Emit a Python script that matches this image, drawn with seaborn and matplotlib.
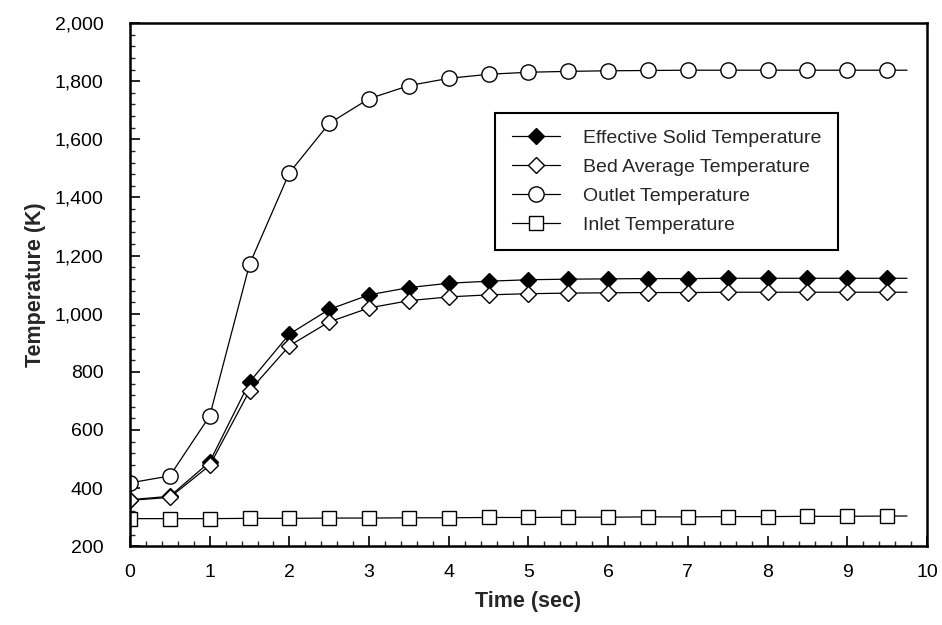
import numpy as np
import pandas as pd
import matplotlib
matplotlib.use("Agg")
import matplotlib.pyplot as plt
import seaborn as sns
from matplotlib.ticker import MultipleLocator, StrMethodFormatter

# Data (markers every 0.5 s, last point is line end)
time_s = [0, 0.5, 1, 1.5, 2, 2.5, 3, 3.5, 4, 4.5, 5, 5.5, 6, 6.5, 7, 7.5, 8, 8.5, 9, 9.5, 9.75]
effective_solid = [360, 372, 490, 765, 930, 1015, 1065, 1090, 1105, 1112, 1117, 1119, 1120, 1121, 1121, 1122, 1122, 1122, 1122, 1122, 1122]
bed_average = [358, 368, 478, 735, 890, 972, 1020, 1045, 1058, 1065, 1069, 1071, 1072, 1073, 1073, 1074, 1074, 1074, 1074, 1074, 1074]
outlet = [418, 442, 648, 1170, 1485, 1655, 1740, 1785, 1810, 1824, 1831, 1834, 1836, 1837, 1838, 1838, 1838, 1838, 1838, 1838, 1838]
inlet = [295, 295, 295, 296, 296, 297, 297, 298, 298, 299, 299, 300, 300, 301, 301, 302, 302, 303, 303, 304, 304]

series = {
    "Effective Solid Temperature": (effective_solid, "D", "black", 8.5),
    "Bed Average Temperature": (bed_average, "D", "white", 8.5),
    "Outlet Temperature": (outlet, "o", "white", 11),
    "Inlet Temperature": (inlet, "s", "white", 10.5),
}

sns.set_style("ticks")
plt.rcParams["font.family"] = ["Liberation Sans", "DejaVu Sans"]

fig = plt.figure(figsize=(9.42, 6.25), dpi=100)
ax = fig.add_axes([0.138, 0.126, 0.846, 0.837])

marked = list(range(len(time_s) - 1))
for name, (vals, mk, face, ms) in series.items():
    df = pd.DataFrame({"Time": time_s, "Temp": vals})
    sns.lineplot(data=df, x="Time", y="Temp", ax=ax, color="black", lw=0.9,
                 marker=mk, markerfacecolor=face, markeredgecolor="black",
                 markeredgewidth=1.0, markersize=ms, markevery=marked, label=name)

ax.set_xlim(0, 10)
ax.set_ylim(200, 2000)
ax.xaxis.set_major_locator(MultipleLocator(1))
ax.xaxis.set_minor_locator(MultipleLocator(0.2))
ax.yaxis.set_major_locator(MultipleLocator(200))
ax.yaxis.set_minor_locator(MultipleLocator(40))
ax.yaxis.set_major_formatter(StrMethodFormatter("{x:,.0f}"))

ax.tick_params(axis="both", which="major", direction="in", length=7, width=1.2,
               labelsize=14, colors="black")
ax.tick_params(axis="both", which="minor", direction="in", length=3.5, width=1.0)
ax.tick_params(axis="y", which="major", pad=19)
ax.tick_params(axis="x", which="major", pad=13)

for sp in ax.spines.values():
    sp.set_visible(True)
    sp.set_linewidth(1.8)
    sp.set_color("black")

ax.set_xlabel("Time (sec)", fontsize=15.5, fontweight="bold", labelpad=7)
ax.set_ylabel("Temperature (K)", fontsize=15.5, fontweight="bold", labelpad=6)

leg = ax.legend(loc="upper left", bbox_to_anchor=(0.458, 0.828), fontsize=14,
                frameon=True, fancybox=False, edgecolor="black", framealpha=1,
                handlelength=2.5, handletextpad=1.2, labelspacing=0.58,
                borderpad=0.85, borderaxespad=0)
leg.get_frame().set_linewidth(1.5)

fig.savefig("out.png", dpi=100)
